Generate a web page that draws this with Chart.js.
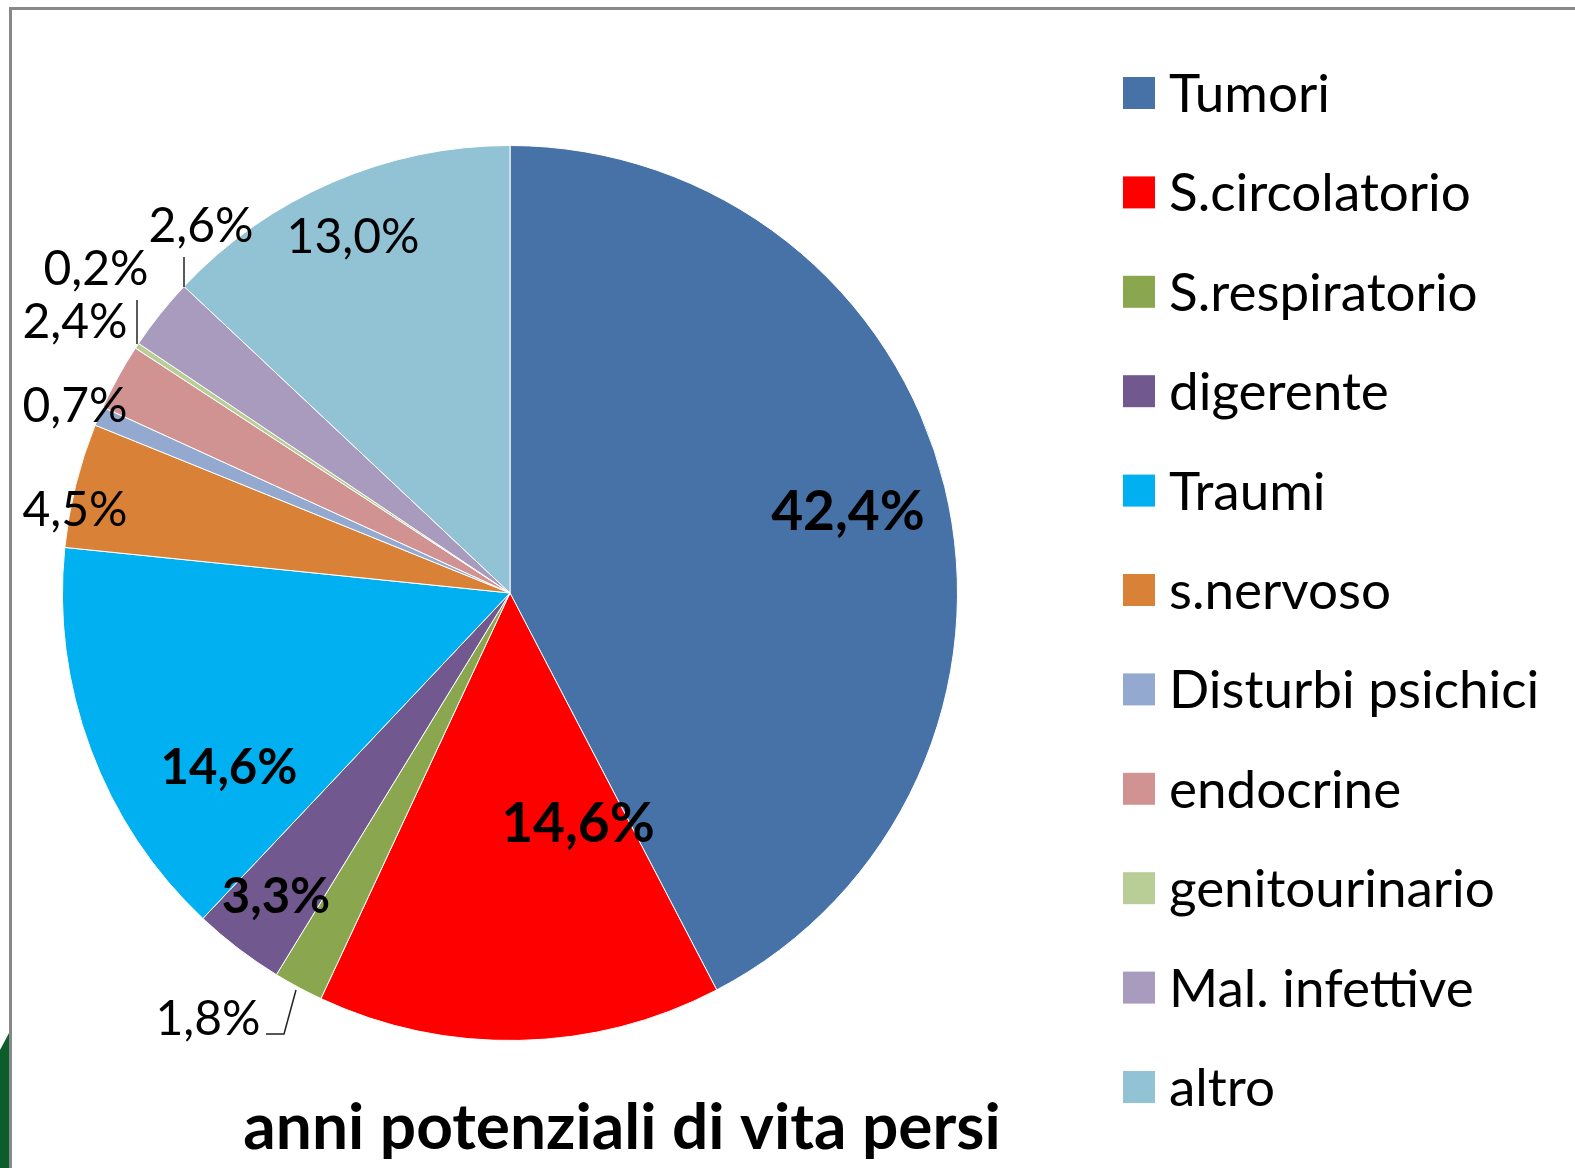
<!DOCTYPE html>
<html>
<head>
<meta charset="utf-8">
<script src="https://cdn.jsdelivr.net/npm/chart.js@4/dist/chart.umd.min.js"></script>
<style>
  html, body { margin: 0; padding: 0; background: #fff; }
  #wrap { width: 1575px; height: 1168px; position: relative; }
</style>
</head>
<body>
<div id="wrap"><canvas id="myChart" width="1575" height="1168"></canvas></div>
<script>
const categories = ['Tumori', 'S.circolatorio', 'S.respiratorio', 'digerente', 'Traumi', 's.nervoso',
    'Disturbi psichici', 'endocrine', 'genitourinario', 'Mal. infettive', 'altro'];
const values = [42.4, 14.6, 1.8, 3.3, 14.6, 4.5, 0.7, 2.4, 0.2, 2.6, 13.0];
const valueLabels = ['42,4%', '14,6%', '1,8%', '3,3%', '14,6%', '4,5%', '0,7%', '2,4%', '0,2%', '2,6%', '13,0%'];
const colors = ['#4672A8', '#FF0000', '#8AA64E', '#71588F', '#00B0F0', '#DA8138',
    '#93A9CF', '#D19392', '#B9CD96', '#A99BBD', '#92C3D4'];
const titleText = 'anni potenziali di vita persi';

// where each percentage label sits (layout only)
const labelPos = [
    {x: 848, y: 512, bold: true, size: 55},
    {x: 578, y: 824, bold: true, size: 55},
    {x: 208, y: 1020, bold: false, size: 48},
    {x: 276, y: 897, bold: true, size: 49},
    {x: 229, y: 768, bold: true, size: 49},
    {x: 75, y: 511, bold: false, size: 48},
    {x: 75, y: 407, bold: false, size: 48},
    {x: 75, y: 323, bold: false, size: 48},
    {x: 96, y: 270, bold: false, size: 48},
    {x: 201, y: 227, bold: false, size: 48},
    {x: 353, y: 238, bold: false, size: 48}
];
const leaders = [
    [[266, 1034], [284, 1034], [296, 990]],
    [[137, 300], [137, 344]],
    [[184, 257], [184, 287]]
];

const FONT = 'Lato, "Open Sans", sans-serif';

const deco = {
    id: 'deco',
    beforeDraw(chart) {
        const c = chart.ctx;
        c.save();
        c.fillStyle = '#fff';
        c.fillRect(0, 0, chart.width, chart.height);
        // green strip at left edge
        c.fillStyle = '#0B5E2A';
        c.beginPath();
        c.moveTo(0, 1050); c.lineTo(9, 1033); c.lineTo(9, 1168); c.lineTo(0, 1168);
        c.closePath(); c.fill();
        // frame
        c.fillStyle = '#888';
        c.fillRect(9, 7, chart.width - 9, 3);
        c.fillRect(9, 7, 3, chart.height - 7);
        c.restore();
    },
    afterDraw(chart) {
        const c = chart.ctx;
        c.save();
        c.fillStyle = '#000';
        c.textAlign = 'center';
        c.textBaseline = 'middle';
        valueLabels.forEach((t, i) => {
            const p = labelPos[i];
            c.font = (p.bold ? 'bold ' : '') + p.size + 'px ' + FONT;
            c.fillText(t, p.x, p.y);
        });
        c.strokeStyle = '#222';
        c.lineWidth = 1.5;
        leaders.forEach(pts => {
            c.beginPath();
            pts.forEach((p, k) => k ? c.lineTo(p[0], p[1]) : c.moveTo(p[0], p[1]));
            c.stroke();
        });
        // legend
        c.textAlign = 'left';
        c.font = '53px ' + FONT;
        categories.forEach((name, i) => {
            const y = 93 + i * 99.4;
            c.fillStyle = colors[i];
            c.fillRect(1123, y - 16, 32, 32);
            c.fillStyle = '#000';
            c.fillText(name, 1169, y + 2);
        });
        // title
        c.textAlign = 'center';
        c.textBaseline = 'alphabetic';
        c.font = 'bold 64px ' + FONT;
        c.fillText(titleText, 622, 1149);
        c.restore();
    }
};

const ctx = document.getElementById('myChart').getContext('2d');
new Chart(ctx, {
    type: 'pie',
    data: {
        labels: categories,
        datasets: [{
            data: values,
            backgroundColor: colors,
            borderColor: '#ffffff',
            borderWidth: 1
        }]
    },
    options: {
        responsive: false,
        animation: false,
        layout: { padding: { left: 62, right: 617, top: 145, bottom: 127 } },
        plugins: {
            legend: { display: false },
            tooltip: { enabled: false }
        }
    },
    plugins: [deco]
});
</script>
</body>
</html>
